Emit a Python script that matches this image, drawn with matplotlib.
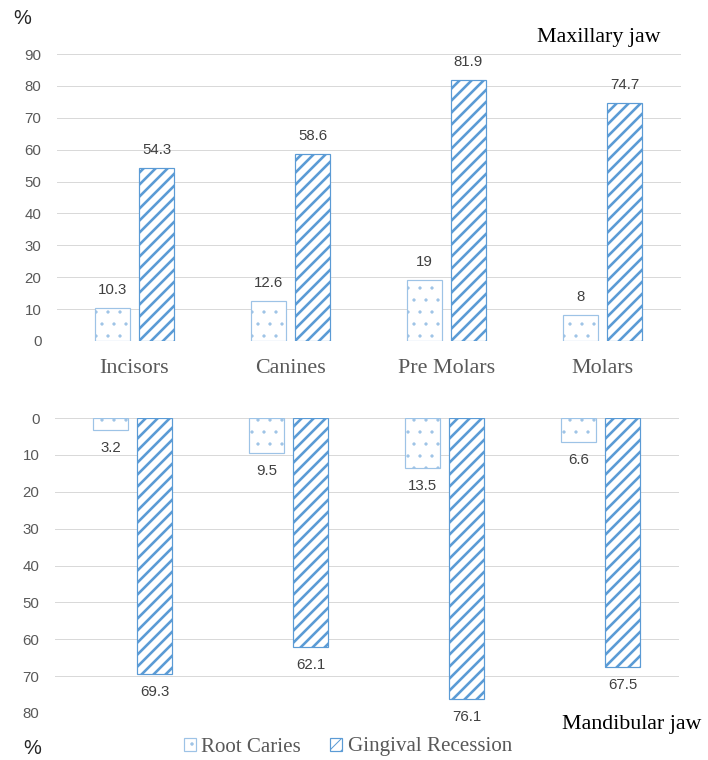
import matplotlib.pyplot as plt
import numpy as np

# tooth groups and percentages per jaw
categories = ["Incisors", "Canines", "Pre Molars", "Molars"]
max_root = [10.3, 12.6, 19, 8]
max_ging = [54.3, 58.6, 81.9, 74.7]
mand_root = [3.2, 9.5, 13.5, 6.6]
mand_ging = [69.3, 62.1, 76.1, 67.5]
max_ticks = [0, 10, 20, 30, 40, 50, 60, 70, 80, 90]
mand_ticks = [0, 10, 20, 30, 40, 50, 60, 70, 80]

serif = "Liberation Serif"
sans = "Liberation Sans"
grey = "#595959"
dark = "#404040"
root_col = "#9dc3e6"
ging_col = "#5b9bd5"

DPI = 72
fig = plt.figure(figsize=(708 / DPI, 760 / DPI), dpi=DPI)
ax1 = fig.add_axes([56.5 / 708, 419 / 760, 624 / 708, 287 / 760])
ax2 = fig.add_axes([54.5 / 708, 47 / 760, 624 / 708, 295 / 760])

x = np.arange(len(categories))
w = 0.224
off = 0.141


def style(ax, ticks):
    for s in ax.spines.values():
        s.set_visible(False)
    ax.set_xlim(-0.5, 3.5)
    ax.set_yticks(ticks)
    ax.set_xticks([])
    ax.tick_params(axis="y", length=0, pad=15, labelsize=15, labelcolor=grey)
    for lab in ax.get_yticklabels():
        lab.set_fontfamily(sans)
    ax.grid(axis="y", color="#d9d9d9", lw=1)
    ax.set_axisbelow(True)


def bars(ax, vals, pos, col, hatch, hlw, up):
    bs = ax.bar(pos, vals, w, color="white", edgecolor=col, hatch=hatch, lw=1.2)
    for b in bs:
        if hasattr(b, "set_hatch_linewidth"):
            b.set_hatch_linewidth(hlw)
    for p, v in zip(pos, vals):
        ax.annotate(f"{v:g}", (p, v), xytext=(0, 18 if up else -18),
                    textcoords="offset points", ha="center", va="center",
                    fontsize=15, family=sans, color=dark)
    return bs


plt.rcParams["hatch.linewidth"] = 1.0
r1 = bars(ax1, max_root, x - off, root_col, ".", 0.8, True)
g1 = bars(ax1, max_ging, x + off, ging_col, "//", 2.6, True)
ax1.set_ylim(0, 90)
style(ax1, max_ticks)

bars(ax2, mand_root, x - off, root_col, ".", 0.8, False)
bars(ax2, mand_ging, x + off, ging_col, "//", 2.6, False)
ax2.set_ylim(80, 0)
style(ax2, mand_ticks)

# tooth group names under the upper chart
for i, name in enumerate(categories):
    ax1.annotate(name, (i, 0), xycoords=("data", "axes fraction"),
                 xytext=(0, -32), textcoords="offset points",
                 ha="center", va="baseline", fontsize=22, family=serif,
                 color=grey)

fig.text(599 / 708, 1 - 42 / 760, "Maxillary jaw", ha="center",
         va="baseline", fontsize=22, family=serif, color="black")
fig.text(562 / 708, 1 - 729 / 760, "Mandibular jaw", ha="left",
         va="baseline", fontsize=22, family=serif, color="black")
fig.text(22 / 708, 1 - 19 / 760, "%", ha="center", va="center",
         fontsize=20, family=sans, color="#262626")
fig.text(32 / 708, 1 - 749 / 760, "%", ha="center", va="center",
         fontsize=20, family=sans, color="#262626")

leg = fig.legend([r1, g1], ["Root Caries", "Gingival Recession"],
                 loc="center", bbox_to_anchor=(348 / 708, 1 - 747 / 760),
                 ncol=2, frameon=False, handlelength=0.57,
                 handleheight=0.57, handletextpad=0.25, columnspacing=1.4,
                 prop={"family": serif, "size": 21}, borderpad=0)
for t in leg.get_texts():
    t.set_color(grey)

fig.savefig("out.png", dpi=DPI)
